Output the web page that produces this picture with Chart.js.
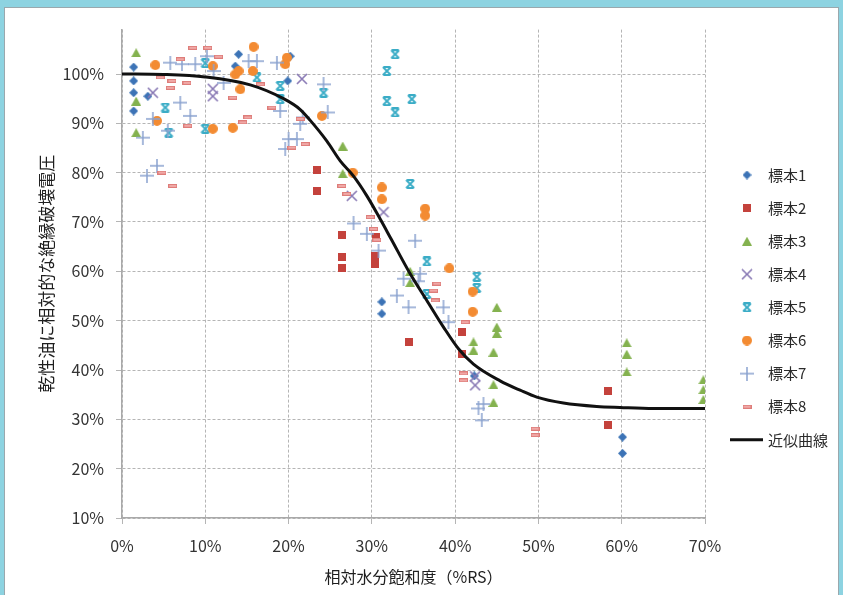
<!DOCTYPE html>
<html>
<head>
<meta charset="utf-8">
<script src="https://cdn.jsdelivr.net/npm/chart.js@4.4.1/dist/chart.umd.min.js"></script>
<style>
  html, body { margin: 0; padding: 0; }
  body { width: 843px; height: 595px; background: #8dd3e1; position: relative; overflow: hidden; }
  #panel { position: absolute; left: 4px; top: 7px; width: 835px; height: 590px; background: #fff;
           border: 1px solid #9aa8ad; border-bottom: none; box-sizing: border-box; }
  #chart { position: absolute; left: 5px; top: 8px; }
</style>
</head>
<body>
<div id="panel"></div>
<canvas id="chart" width="833" height="587"></canvas>
<script>
// data (x = %RS, y = % of dry oil breakdown voltage)
const seriesNames = ['標本1', '標本2', '標本3', '標本4', '標本5', '標本6', '標本7', '標本8'];
const curveName = '近似曲線';

const sample1 = [[1.4, 101.4], [1.4, 98.6], [1.4, 96.2], [1.4, 92.5], [3.1, 95.5], [14.0, 104.0], [13.6, 101.6],
  [19.9, 98.6], [20.2, 103.6], [31.2, 53.8], [31.2, 51.4], [42.3, 38.8], [60.1, 26.4], [60.1, 23.1]];
const sample2 = [[23.4, 80.5], [23.4, 76.2], [26.4, 67.4], [26.4, 63.0], [26.4, 60.7], [30.5, 67.0], [30.4, 63.2],
  [30.4, 61.5], [34.4, 45.7], [40.8, 47.7], [40.8, 43.3], [58.4, 35.7], [58.4, 28.8]];
const sample3 = [[1.7, 104.3], [1.7, 94.5], [1.7, 88.1], [26.5, 85.4], [26.5, 79.8], [34.6, 60.0], [34.6, 57.7],
  [42.2, 45.7], [42.2, 44.0], [44.6, 43.6], [44.6, 37.0], [44.6, 33.4], [45.0, 52.7], [45.0, 48.7], [45.0, 47.4],
  [60.6, 45.5], [60.6, 43.2], [60.6, 39.6], [69.8, 38.0], [69.8, 36.0], [69.8, 34.0]];
const sample4 = [[3.7, 96.2], [10.9, 97.0], [10.9, 95.5], [21.6, 99.0], [27.6, 75.3], [31.4, 72.0], [42.4, 38.7], [42.4, 36.9]];
const sample5 = [[5.2, 93.2], [5.6, 88.1], [10.0, 88.9], [10.0, 102.2], [16.2, 99.3], [19.0, 97.6], [19.0, 94.9],
  [24.2, 96.2], [32.8, 104.0], [31.8, 100.6], [31.8, 94.5], [32.8, 92.2], [34.8, 94.9], [34.6, 77.7], [36.6, 62.0],
  [36.6, 55.4], [42.6, 58.9], [42.6, 56.6]];
const sample6 = [[4.0, 101.8], [4.2, 90.5], [10.9, 101.6], [10.9, 88.9], [13.3, 89.1], [15.8, 105.5], [13.6, 99.9],
  [14.0, 100.6], [15.7, 100.6], [14.2, 96.9], [19.8, 103.3], [19.6, 102.0], [24.0, 91.5], [27.7, 80.0], [31.2, 77.0],
  [31.2, 74.6], [36.4, 72.7], [36.4, 71.3], [39.3, 60.6], [42.1, 55.9], [42.1, 51.8]];
const sample7 = [[5.8, 102.3], [7.2, 102.0], [8.8, 102.0], [7.0, 94.2], [8.2, 91.5], [3.7, 90.9], [2.5, 87.1],
  [5.5, 88.5], [4.2, 81.4], [3.0, 79.4], [10.2, 103.6], [11.0, 100.6], [12.2, 98.2], [15.2, 102.6], [16.2, 102.6],
  [18.6, 102.3], [19.0, 92.5], [20.0, 86.8], [21.0, 86.8], [19.6, 84.8], [21.4, 89.9], [21.7, 91.2], [24.2, 97.9],
  [24.7, 92.2], [27.8, 69.7], [29.4, 67.6], [30.8, 64.2], [35.2, 66.2], [33.8, 58.5], [35.8, 59.5], [35.6, 58.0],
  [33.0, 55.1], [34.4, 52.7], [38.6, 52.7], [39.2, 49.7], [43.4, 33.1], [42.8, 32.2], [43.2, 29.8]];
const sample8 = [[8.5, 105.3], [10.3, 105.3], [7.0, 103.0], [6.0, 98.6], [7.8, 98.2], [4.6, 99.3], [5.8, 97.2],
  [7.9, 89.5], [4.8, 80.0], [6.1, 77.3], [11.6, 103.5], [13.3, 95.2], [18.0, 93.2], [15.1, 91.2], [14.5, 90.2],
  [16.6, 97.9], [20.4, 85.1], [22.0, 85.8], [21.4, 90.9], [26.4, 77.3], [27.0, 75.7], [29.8, 71.0], [30.2, 68.6],
  [30.6, 66.4], [37.8, 57.5], [37.4, 56.1], [37.6, 54.1], [41.2, 49.7], [41.0, 39.3], [41.0, 37.9], [49.6, 28.1], [49.6, 26.8]];

const curveX = [0, 5, 10, 15.4, 19.4, 21.4, 22.6, 24.6, 26.2, 27.8, 29.4, 31, 32.3, 34.6, 36.6, 38.6, 40.4, 42.2,
  45.4, 47.8, 49.8, 53, 57, 59.8, 63.8, 70];
const curveY = [100, 99.9, 99.4, 97.8, 95.0, 92.8, 90.6, 86.4, 82.4, 79.3, 75.3, 70.6, 66.6, 59.5, 54.1, 48.7, 44.3,
  41.2, 37.8, 35.9, 34.5, 33.3, 32.6, 32.4, 32.2, 32.2];

const xTicks = [0, 10, 20, 30, 40, 50, 60, 70];
const yTicks = [10, 20, 30, 40, 50, 60, 70, 80, 90, 100];

// marker images
function marker(w, h, draw) {
  const c = document.createElement('canvas');
  c.width = w; c.height = h;
  draw(c.getContext('2d'), w, h);
  return c;
}
const markers = [
  marker(9, 9, g => { g.fillStyle = '#3c73b6'; g.beginPath(); g.moveTo(4.5, 0); g.lineTo(9, 4.5); g.lineTo(4.5, 9); g.lineTo(0, 4.5); g.closePath(); g.fill(); }),
  marker(8, 8, g => { g.fillStyle = '#c4423c'; g.fillRect(0, 0, 8, 8); }),
  marker(10, 9, g => { g.fillStyle = '#84b24f'; g.beginPath(); g.moveTo(5, 0); g.lineTo(10, 9); g.lineTo(0, 9); g.closePath(); g.fill(); }),
  marker(12, 12, g => { g.strokeStyle = '#8878b4'; g.lineWidth = 1.6; g.beginPath(); g.moveTo(1, 1); g.lineTo(11, 11); g.moveTo(11, 1); g.lineTo(1, 11); g.stroke(); }),
  marker(10, 10, g => { g.strokeStyle = '#3aacc6'; g.lineWidth = 1.8; g.beginPath(); g.moveTo(1, 1); g.lineTo(9, 9); g.moveTo(9, 1); g.lineTo(1, 9);
    g.moveTo(1.5, 1); g.lineTo(8.5, 1); g.moveTo(1.5, 9); g.lineTo(8.5, 9); g.stroke(); }),
  marker(10, 10, g => { g.fillStyle = '#f38b32'; g.beginPath(); g.arc(5, 5, 5, 0, Math.PI * 2); g.fill(); }),
  marker(14, 14, g => { g.strokeStyle = '#8aa2cf'; g.lineWidth = 1.5; g.beginPath(); g.moveTo(7, 0); g.lineTo(7, 14); g.moveTo(0, 7); g.lineTo(14, 7); g.stroke(); }),
  marker(9, 4, g => { g.fillStyle = '#f0a8a6'; g.fillRect(0, 0, 9, 4); g.strokeStyle = '#de7d7a'; g.lineWidth = 1; g.strokeRect(0.5, 0.5, 8, 3); })
];

const samples = [sample1, sample2, sample3, sample4, sample5, sample6, sample7, sample8];
const datasets = samples.map((pts, i) => ({
  type: 'scatter',
  label: seriesNames[i],
  data: pts.map(p => ({ x: p[0], y: p[1] })),
  pointStyle: markers[i],
  pointRadius: 5,
  pointHoverRadius: 5,
  order: 10 - i
}));
datasets.push({
  type: 'line',
  label: curveName,
  data: curveX.map((x, i) => ({ x: x, y: curveY[i] })),
  borderColor: '#111',
  borderWidth: 3,
  pointRadius: 0,
  fill: false,
  cubicInterpolationMode: 'monotone',
  order: 1
});

const FONT = "'Noto Sans CJK JP', 'Noto Sans', sans-serif";

const legendPlugin = {
  id: 'sideLegend',
  afterDraw(chart) {
    const ctx = chart.ctx;
    ctx.save();
    ctx.font = '15px ' + FONT;
    ctx.fillStyle = '#2b2b2b';
    ctx.textBaseline = 'middle';
    const step = 33.1;
    seriesNames.forEach((name, i) => {
      const y = 167 + step * i;
      const m = markers[i];
      ctx.drawImage(m, 742 - m.width / 2, y - m.height / 2);
      ctx.fillText(name, 763, y);
    });
    const ly = 167 + step * 8;
    ctx.strokeStyle = '#111';
    ctx.lineWidth = 3;
    ctx.beginPath();
    ctx.moveTo(725, ly);
    ctx.lineTo(758, ly);
    ctx.stroke();
    ctx.fillText(curveName, 763, ly);
    ctx.restore();
  }
};

new Chart(document.getElementById('chart'), {
  type: 'scatter',
  data: { datasets },
  options: {
    responsive: false,
    animation: false,
    events: [],
    layout: { padding: { top: 19, right: 133, left: 0, bottom: 0 } },
    plugins: { legend: { display: false }, tooltip: { enabled: false } },
    scales: {
      x: {
        type: 'linear',
        min: 0, max: 70,
        afterBuildTicks: s => { s.ticks = xTicks.map(v => ({ value: v })); },
        afterFit: s => { s.height = 77; },
        ticks: { callback: v => v + '%', font: { family: FONT, size: 16 }, color: '#333', padding: 12, maxRotation: 0 },
        grid: { color: '#b5b5b5', lineWidth: 1, tickLength: 6, tickColor: '#b5b5b5' },
        border: { display: true, color: '#a9a9a9', width: 1.5, dash: [3, 2] },
        title: { display: true, text: '相対水分飽和度（%RS）', font: { family: FONT, size: 16 }, color: '#1e1e1e', padding: { top: 0, bottom: 8 } }
      },
      y: {
        type: 'linear',
        min: 10, max: 109,
        afterBuildTicks: s => { s.ticks = yTicks.map(v => ({ value: v })); },
        afterFit: s => { s.width = 117; },
        ticks: { callback: v => v + '%', font: { family: FONT, size: 16 }, color: '#333', padding: 12 },
        grid: { color: '#b5b5b5', lineWidth: 1, tickLength: 6, tickColor: '#b5b5b5' },
        border: { display: true, color: '#a9a9a9', width: 1.5, dash: [3, 2] },
        title: { display: true, text: '乾性油に相対的な絶縁破壊電圧', font: { family: FONT, size: 17 }, color: '#1e1e1e', padding: { top: 31, bottom: 0 } }
      }
    }
  },
  plugins: [legendPlugin]
});
</script>
</body>
</html>
